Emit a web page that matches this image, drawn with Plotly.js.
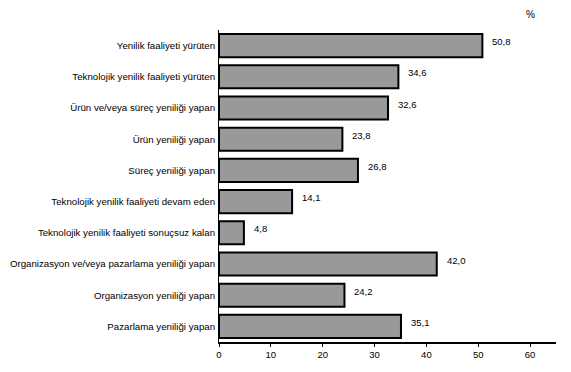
<!DOCTYPE html>
<html>
<head>
<meta charset="utf-8">
<script src="https://cdn.plot.ly/plotly-3.0.1.min.js"></script>
<style>html,body{margin:0;padding:0;background:#fff;}#chart{width:571px;height:372px;}</style>
</head>
<body>
<div id="chart"></div>
<script>
var categories = [
  "Yenilik faaliyeti yürüten",
  "Teknolojik yenilik faaliyeti yürüten",
  "Ürün ve/veya süreç yeniliği yapan",
  "Ürün yeniliği yapan",
  "Süreç yeniliği yapan",
  "Teknolojik yenilik faaliyeti devam eden",
  "Teknolojik yenilik faaliyeti sonuçsuz kalan",
  "Organizasyon ve/veya pazarlama yeniliği yapan",
  "Organizasyon yeniliği yapan",
  "Pazarlama yeniliği yapan"
];
var values = [50.8, 34.6, 32.6, 23.8, 26.8, 14.1, 4.8, 42.0, 24.2, 35.1];
var xTicks = [0, 10, 20, 30, 40, 50, 60];

var fontFam = "Liberation Sans, Arial, sans-serif";
var labels = values.map(function(v){ return v.toFixed(1).replace('.', ','); });

var trace = {
  type: 'bar',
  orientation: 'h',
  x: values,
  y: categories,
  width: 0.74,
  marker: {color: '#999999', line: {color: '#000000', width: 2}},
  hoverinfo: 'none'
};

var annotations = values.map(function(v, i){
  return {x: v, y: categories[i], xref: 'x', yref: 'y', text: labels[i], showarrow: false,
          xanchor: 'left', yanchor: 'middle', xshift: 8, yshift: 4,
          font: {family: fontFam, size: 9.5, color: '#000'}};
});
annotations.push({x: 60, y: 1, xref: 'x', yref: 'paper', text: '%', showarrow: false,
  xanchor: 'center', yanchor: 'bottom', yshift: 8, font: {family: fontFam, size: 10, color: '#000'}});

var layout = {
  width: 571, height: 372,
  margin: {l: 219, r: 15, t: 30, b: 30},
  paper_bgcolor: '#ffffff', plot_bgcolor: '#ffffff',
  showlegend: false,
  font: {family: fontFam, size: 9, color: '#000'},
  xaxis: {
    range: [0, 65], tickvals: xTicks, ticktext: xTicks.map(String),
    showgrid: false, zeroline: false, showline: true, linecolor: '#000', linewidth: 2,
    ticks: 'outside', ticklen: 3, tickcolor: '#000', tickwidth: 1,
    tickfont: {family: fontFam, size: 9.5, color: '#000'}, fixedrange: true
  },
  yaxis: {
    autorange: false, range: [9.5, -0.5], type: 'category',
    showgrid: false, zeroline: false, showline: true, linecolor: '#000', linewidth: 1,
    ticks: '', ticklabelstandoff: 1,
    tickfont: {family: fontFam, size: 9.7, color: '#000'}, fixedrange: true
  },
  annotations: annotations
};

Plotly.newPlot('chart', [trace], layout, {displayModeBar: false, staticPlot: true});
</script>
</body>
</html>
